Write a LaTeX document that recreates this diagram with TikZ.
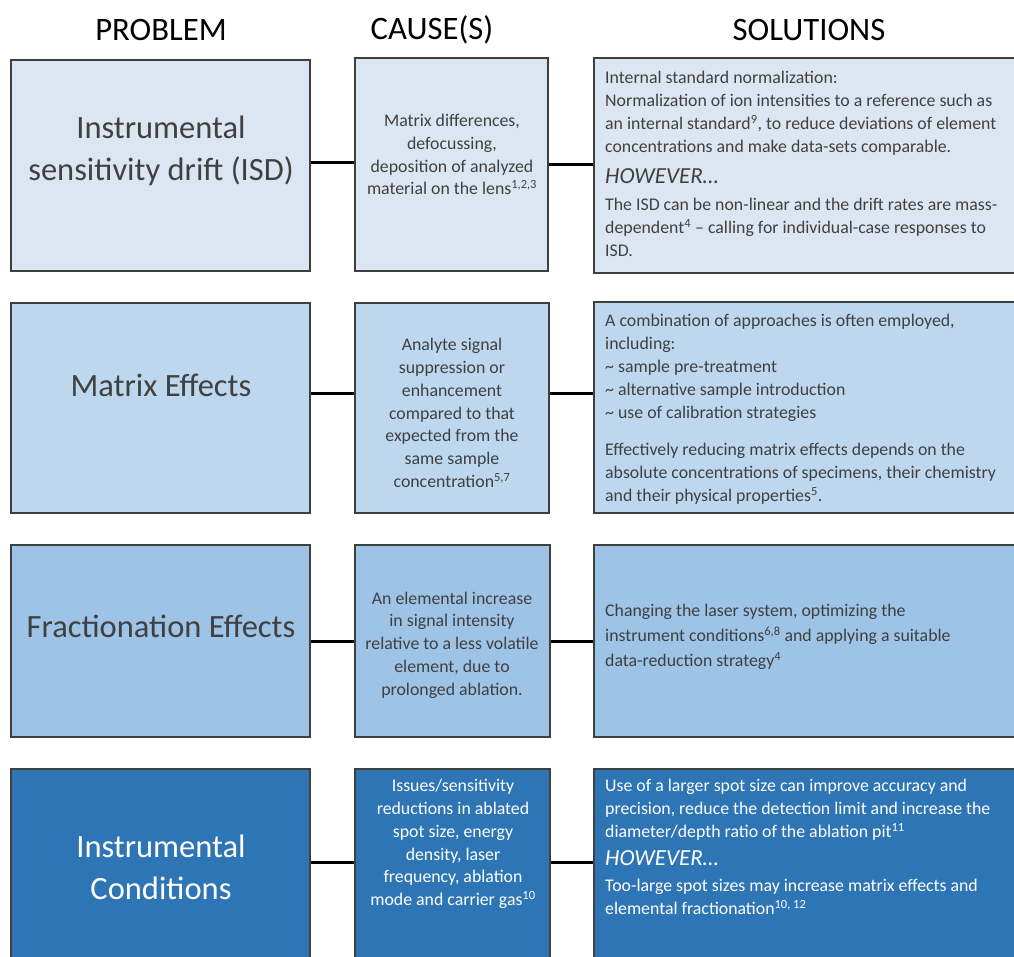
\documentclass[tikz,border=0pt]{standalone}
\usepackage{fontspec}
\setmainfont{Carlito}
\definecolor{rowA}{HTML}{DCE6F2}
\definecolor{rowB}{HTML}{BDD7EE}
\definecolor{rowC}{HTML}{9DC3E6}
\definecolor{rowD}{HTML}{2E75B6}
\definecolor{edge}{HTML}{3F3F3F}
\definecolor{txt}{HTML}{404040}
\tikzset{
  box/.style={draw=edge, line width=1.5pt, inner sep=0pt, rectangle},
  head/.style={font=\fontsize{32.7}{38}\selectfont, text=black, inner sep=0pt},
  ptext/.style={font=\fontsize{32.5}{42}\selectfont, align=center, inner sep=0pt, text=txt},
  ctext/.style={font=\fontsize{17.8}{22.8}\selectfont, align=center, inner sep=0pt, text=txt},
  stext/.style={font=\fontsize{17.8}{23}\selectfont, align=left, inner sep=0pt, text=txt, anchor=north west},
  link/.style={line width=3pt, black},
}
\newcommand{\howev}{{\fontsize{23}{23}\selectfont\itshape HOWEVER\ldots}}
\begin{document}
\begin{tikzpicture}[x=1pt,y=-1pt]
\useasboundingbox (0,0) rectangle (1014,956);
\clip (0,0) rectangle (1014,956);
% headers
\node[head] (hp) at (161,30) {PROBLEM};
\node[head] (hc) at (432,30) {CAUSE(S)};
\node[head] (hs) at (809,30) {SOLUTIONS};
% row 1
\node[box, fill=rowA, minimum width=299pt, minimum height=211pt] (p1) at (160.5,165.5) {};
\node[box, fill=rowA, minimum width=193pt, minimum height=213pt] (c1) at (451.5,164.5) {};
\node[box, fill=rowA, minimum width=424pt, minimum height=215pt] (s1) at (806,165.5) {};
% row 2
\node[box, fill=rowB, minimum width=299pt, minimum height=210pt] (p2) at (160.5,408) {};
\node[box, fill=rowB, minimum width=194pt, minimum height=210pt] (c2) at (452,408) {};
\node[box, fill=rowB, minimum width=424pt, minimum height=211pt] (s2) at (806,407.5) {};
% row 3
\node[box, fill=rowC, minimum width=299pt, minimum height=192pt] (p3) at (160.5,641) {};
\node[box, fill=rowC, minimum width=195pt, minimum height=192pt] (c3) at (452.5,641) {};
\node[box, fill=rowC, minimum width=424pt, minimum height=192pt] (s3) at (806,641) {};
% row 4
\node[box, fill=rowD, minimum width=299pt, minimum height=189pt] (p4) at (160.5,863.5) {};
\node[box, fill=rowD, minimum width=195pt, minimum height=189pt] (c4) at (452.5,863.5) {};
\node[box, fill=rowD, minimum width=424pt, minimum height=189pt] (s4) at (806,863.5) {};
% connectors
\draw[link] ([yshift=3pt]p1.east) -- ([yshift=3pt]p1.east -| c1.west);
\draw[link] (c1.east) -- (c1.east -| s1.west);
\draw[link] ([yshift=15pt]p2.east) -- ([yshift=15pt]p2.east -| c2.west);
\draw[link] ([yshift=15pt]c2.east) -- ([yshift=15pt]c2.east -| s2.west);
\draw[link] (p3.east) -- (p3.east -| c3.west);
\draw[link] (c3.east) -- (c3.east -| s3.west);
\draw[link] ([yshift=1pt]p4.east) -- ([yshift=1pt]p4.east -| c4.west);
\draw[link] ([yshift=1pt]c4.east) -- ([yshift=1pt]c4.east -| s4.west);
% problem texts
\node[ptext] (p1t) at (161,151) {Instrumental\\sensitivity drift (ISD)};
\node[ptext] (p2t) at (161,385.5) {Matrix Effects};
\node[ptext] (p3t) at (161,626.5) {Fractionation Effects};
\node[ptext, text=white] (p4t) at (161,867) {Instrumental\\Conditions};
% cause texts
\node[ctext] (c1t) at (452,154.5) {Matrix differences,\\defocussing,\\deposition of analyzed\\material on the lens\textsuperscript{1,2,3}};
\node[ctext] (c2t) at (452,413) {Analyte signal\\suppression or\\enhancement\\compared to that\\expected from the\\same sample\\concentration\textsuperscript{5,7}};
\node[ctext] (c3t) at (452,645) {An elemental increase\\in signal intensity\\relative to a less volatile\\element, due to\\prolonged ablation.};
\node[ctext, text=white] (c4t) at (453,844) {Issues/sensitivity\\reductions in ablated\\spot size, energy\\density, laser\\frequency, ablation\\mode and carrier gas\textsuperscript{10}};
% solution texts
\node[stext] (s1t) at (605,71) {Internal standard normalization:\\
Normalization of ion intensities to a reference such as\\
an internal standard\textsuperscript{9}, to reduce deviations of element\\
concentrations and make data-sets comparable.\\[8pt]
\howev\\[4pt]
The ISD can be non-linear and the drift rates are mass-\\
dependent\textsuperscript{4} -- calling for individual-case responses to\\
ISD.};
\node[stext] (s2t) at (605,314) {A combination of approaches is often employed,\\
including:\\
\textasciitilde{} sample pre-treatment\\
\textasciitilde{} alternative sample introduction\\
\textasciitilde{} use of calibration strategies\\[14pt]
Effectively reducing matrix effects depends on the\\
absolute concentrations of specimens, their chemistry\\
and their physical properties\textsuperscript{5}.};
\node[stext, font=\fontsize{17.8}{25}\selectfont] (s3t) at (605,604) {Changing the laser system, optimizing the\\
instrument conditions\textsuperscript{6,8} and applying a suitable\\
data-reduction strategy\textsuperscript{4}};
\node[stext, text=white] (s4t) at (605,779) {Use of a larger spot size can improve accuracy and\\
precision, reduce the detection limit and increase the\\
diameter/depth ratio of the ablation pit\textsuperscript{11}\\[5pt]
\howev\\[3pt]
Too-large spot sizes may increase matrix effects and\\
elemental fractionation\textsuperscript{10, 12}};
\end{tikzpicture}
\end{document}
